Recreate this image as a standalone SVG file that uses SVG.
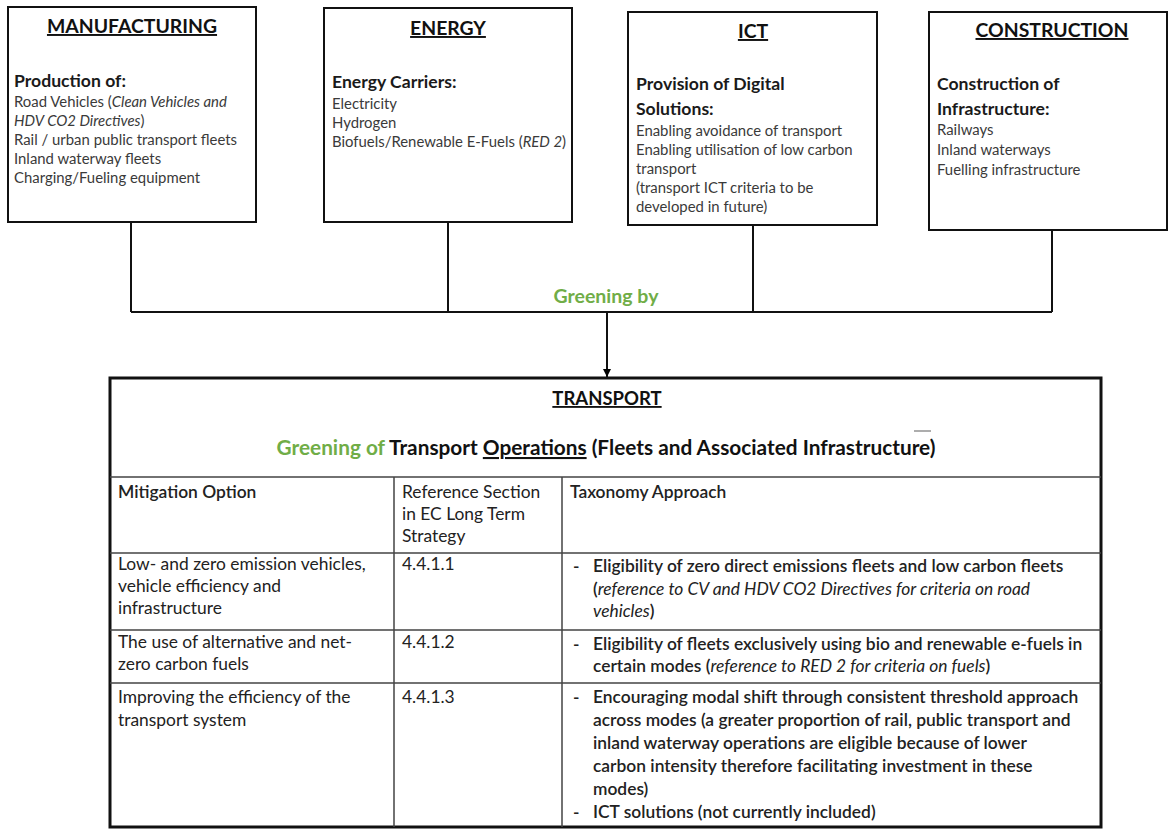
<svg xmlns="http://www.w3.org/2000/svg" width="1170" height="830" viewBox="0 0 1170 830">
  <defs>
    <marker id="arrow" viewBox="0 0 10 10" refX="10" refY="5" markerWidth="8" markerHeight="9" markerUnits="userSpaceOnUse" orient="auto">
      <path d="M0,0 L10,5 L0,10 z" fill="#000"/>
    </marker>
    <style>
      text { font-family: Lato, "Open Sans", "Liberation Sans", sans-serif; }
      .box { fill: #fff; stroke: #111; stroke-width: 2; }
      .head { font-size: 19.4px; font-weight: bold; fill: #111; text-anchor: middle; text-decoration: underline; }
      .sub { font-size: 17.6px; font-weight: bold; fill: #1a1a1a; }
      .body { font-size: 14.9px; fill: #3a3a3a; }
      .wire { fill: none; stroke: #111; stroke-width: 2; }
      .green { fill: #70AD47; }
      .frame { fill: #fff; stroke: #111; stroke-width: 3; }
      .grid { stroke: #444; stroke-width: 1.5; fill: none; }
      .th { font-size: 17.4px; font-weight: 600; fill: #222; }
      .td { font-size: 17.4px; fill: #222; }
      .tx { font-size: 17.4px; font-weight: 600; fill: #222; }
      .it { font-style: italic; font-weight: normal; }
    </style>
  </defs>

  <rect width="1170" height="830" fill="#fff"/>

  <!-- connectors: sector boxes merge into one feed toward transport -->
  <g id="connectors">
    <path class="wire" d="M131,222 V312 M448,222 V312 M753,225 V312 M1052,230 V312 M131,312 H1052"/>
    <path class="wire" d="M607,312 V377" marker-end="url(#arrow)"/>
    <text x="606" y="303" text-anchor="middle" font-size="19.5" font-weight="bold" class="green">Greening by</text>
  </g>

  <g id="manufacturing">
    <rect class="box" x="8" y="7" width="248" height="215"/>
    <text class="head" x="132" y="33">MANUFACTURING</text>
    <text class="sub" x="14" y="87">Production of:</text>
    <text class="body" x="14" y="107">Road Vehicles (<tspan class="it">Clean Vehicles and</tspan></text>
    <text class="body" x="14" y="126"><tspan class="it">HDV CO2 Directives</tspan>)</text>
    <text class="body" x="14" y="145">Rail / urban public transport fleets</text>
    <text class="body" x="14" y="164">Inland waterway fleets</text>
    <text class="body" x="14" y="183">Charging/Fueling equipment</text>
  </g>

  <g id="energy">
    <rect class="box" x="324" y="8" width="248" height="214"/>
    <text class="head" x="448" y="35">ENERGY</text>
    <text class="sub" x="332" y="88">Energy Carriers:</text>
    <text class="body" x="332" y="109">Electricity</text>
    <text class="body" x="332" y="128">Hydrogen</text>
    <text class="body" x="332" y="147">Biofuels/Renewable E-Fuels (<tspan class="it">RED 2</tspan>)</text>
  </g>

  <g id="ict">
    <rect class="box" x="628" y="12" width="249" height="213"/>
    <text class="head" x="753" y="38">ICT</text>
    <text class="sub" x="636" y="90">Provision of Digital</text>
    <text class="sub" x="636" y="115">Solutions:</text>
    <text class="body" x="636" y="136">Enabling avoidance of transport</text>
    <text class="body" x="636" y="155">Enabling utilisation of low carbon</text>
    <text class="body" x="636" y="174">transport</text>
    <text class="body" x="636" y="193">(transport ICT criteria to be</text>
    <text class="body" x="636" y="212">developed in future)</text>
  </g>

  <g id="construction">
    <rect class="box" x="929" y="12" width="238" height="218"/>
    <text class="head" x="1052" y="37">CONSTRUCTION</text>
    <text class="sub" x="937" y="90">Construction of</text>
    <text class="sub" x="937" y="115">Infrastructure:</text>
    <text class="body" x="937" y="135">Railways</text>
    <text class="body" x="937" y="155">Inland waterways</text>
    <text class="body" x="937" y="175">Fuelling infrastructure</text>
  </g>

  <g id="transport">
    <rect class="frame" x="110" y="378" width="991" height="449"/>
    <text x="607" y="405" text-anchor="middle" font-size="18.5" font-weight="bold" fill="#111" text-decoration="underline">TRANSPORT</text>
    <line x1="914" y1="431" x2="931" y2="431" stroke="#777" stroke-width="1.2"/>
    <text x="606" y="455" text-anchor="middle" font-size="20.8" font-weight="bold" fill="#111"><tspan class="green">Greening of </tspan>Transport <tspan text-decoration="underline">Operations</tspan> (Fleets and Associated Infrastructure)</text>

    <!-- table grid -->
    <path class="grid" d="M110,477 H1101 M110,553 H1101 M110,630 H1101 M110,683 H1101 M394,477 V827 M562,477 V827"/>

    <!-- header row -->
    <text class="th" x="118" y="498">Mitigation Option</text>
    <text class="td" x="402" y="498">Reference Section</text>
    <text class="td" x="402" y="520">in EC Long Term</text>
    <text class="td" x="402" y="542">Strategy</text>
    <text class="th" x="570" y="498">Taxonomy Approach</text>

    <!-- row 1 -->
    <text class="td" x="118" y="570">Low- and zero emission vehicles,</text>
    <text class="td" x="118" y="592">vehicle efficiency and</text>
    <text class="td" x="118" y="614">infrastructure</text>
    <text class="td" x="402" y="570">4.4.1.1</text>
    <text class="tx" x="573" y="572">-</text>
    <text class="tx" x="593" y="572">Eligibility of zero direct emissions fleets and low carbon fleets</text>
    <text class="tx" x="593" y="595">(<tspan class="it">reference to CV and HDV CO2 Directives for criteria on road</tspan></text>
    <text class="tx" x="593" y="617"><tspan class="it">vehicles</tspan>)</text>

    <!-- row 2 -->
    <text class="td" x="118" y="648">The use of alternative and net-</text>
    <text class="td" x="118" y="670">zero carbon fuels</text>
    <text class="td" x="402" y="648">4.4.1.2</text>
    <text class="tx" x="573" y="650">-</text>
    <text class="tx" x="593" y="650">Eligibility of fleets exclusively using bio and renewable e-fuels in</text>
    <text class="tx" x="593" y="672">certain modes (<tspan class="it">reference to RED 2 for criteria on fuels</tspan>)</text>

    <!-- row 3 -->
    <text class="td" x="118" y="703">Improving the efficiency of the</text>
    <text class="td" x="118" y="726">transport system</text>
    <text class="td" x="402" y="703">4.4.1.3</text>
    <text class="tx" x="573" y="703">-</text>
    <text class="tx" x="593" y="703">Encouraging modal shift through consistent threshold approach</text>
    <text class="tx" x="593" y="726">across modes (a greater proportion of rail, public transport and</text>
    <text class="tx" x="593" y="749">inland waterway operations are eligible because of lower</text>
    <text class="tx" x="593" y="772">carbon intensity therefore facilitating investment in these</text>
    <text class="tx" x="593" y="795">modes)</text>
    <text class="tx" x="573" y="818">-</text>
    <text class="tx" x="593" y="818">ICT solutions (not currently included)</text>
  </g>
</svg>
